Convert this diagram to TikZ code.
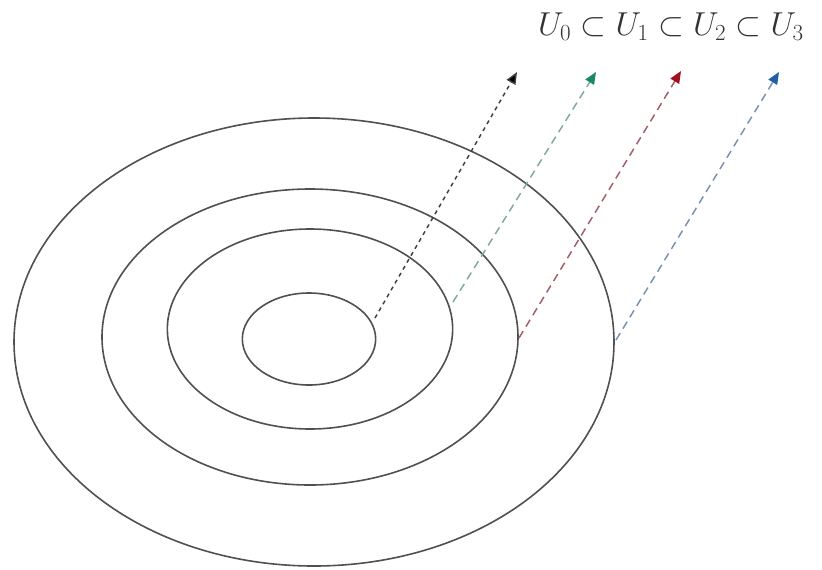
\documentclass[tikz,border=0pt]{standalone}
\usetikzlibrary{arrows.meta}
\definecolor{ringc}{HTML}{505050}
\definecolor{cgreen}{HTML}{1A8A5E}
\definecolor{cred}{HTML}{A0101E}
\definecolor{cblue}{HTML}{1E5FA8}
\tikzset{
  ring/.style={draw=ringc, line width=1.2pt},
  setarrow/.style={line width=1.1pt, dash pattern=on 6pt off 4pt, -{Triangle[length=9pt,width=7.5pt]}},
}
\begin{document}
\begin{tikzpicture}[x=0.75pt,y=-0.75pt]
\useasboundingbox (0,0) rectangle (822,569);
\draw[ring] (314,342) ellipse [x radius=225pt, y radius=168pt];
\draw[ring] (310,337) ellipse [x radius=156pt, y radius=111pt];
\draw[ring] (310,329) ellipse [x radius=107pt, y radius=75pt];
\draw[ring] (309,339) ellipse [x radius=50pt, y radius=34.5pt];
\coordinate (s0) at (375,318);
\coordinate (t0) at (517,72);
\coordinate (s1) at (453,302);
\coordinate (t1) at (596,72);
\coordinate (s2) at (519,338);
\coordinate (t2) at (681,71);
\coordinate (s3) at (616,340);
\coordinate (t3) at (779,72);
\draw[setarrow, draw=black!75, dash pattern=on 3pt off 3pt, -{Triangle[length=9pt,width=7.5pt,fill=black]}] (s0) -- (t0);
\draw[setarrow, draw=cgreen!55!gray!70, -{Triangle[length=9pt,width=7.5pt,fill=cgreen,color=cgreen]}] (s1) -- (t1);
\draw[setarrow, draw=cred!55!gray!85, -{Triangle[length=9pt,width=7.5pt,fill=cred,color=cred]}] (s2) -- (t2);
\draw[setarrow, draw=cblue!55!gray!75, -{Triangle[length=9pt,width=7.5pt,fill=cblue,color=cblue]}] (s3) -- (t3);
\node[inner sep=0, text=black!80, font=\fontsize{26}{30}\selectfont] (lab) at (671,27) {$U_0\subset U_1\subset U_2\subset U_3$};
\end{tikzpicture}
\end{document}
